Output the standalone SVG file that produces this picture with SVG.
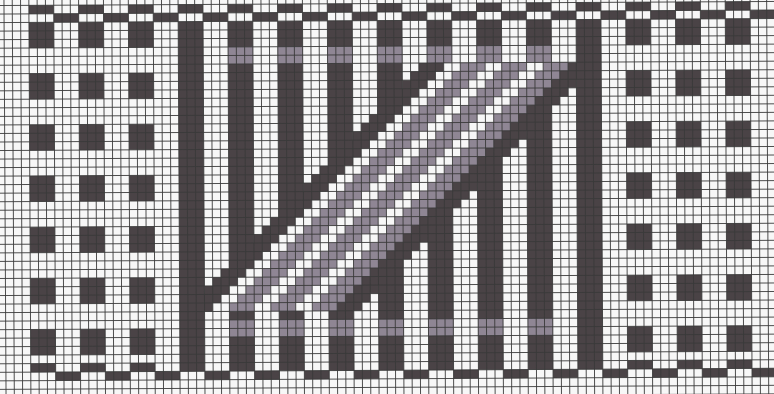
<svg xmlns="http://www.w3.org/2000/svg" xmlns:xlink="http://www.w3.org/1999/xlink" width="774" height="394" viewBox="0 0 774 394">
<style>
.dk{fill:#4a4346}
.gy{fill:#8f8694}
.wt{fill:#f7f7f7}
.gl{stroke:#3a3a3a;stroke-width:0.9;fill:none;vector-effect:non-scaling-stroke}
</style>
<defs>
<path id="s2" d="M-8 8H-6v1h-1v1h-1v1h-1v1h-1v1h-1v1h-1v1h-1v1h-1v1h-1v1h-1v1h-1v1h-1v1h-1v1h-1v1h-1v1h-1v1h-1v1h-1v1h-1v1h-1v1h-1v1h-1v1h-1v1h-1v1h-1v1h-1v1h-1v1h-1v1H-37v-1h1v-1h1v-1h1v-1h1v-1h1v-1h1v-1h1v-1h1v-1h1v-1h1v-1h1v-1h1v-1h1v-1h1v-1h1v-1h1v-1h1v-1h1v-1h1v-1h1v-1h1v-1h1v-1h1v-1h1v-1h1v-1h1v-1h1v-1h1v-1h1v-1z"/>
<path id="s3" d="M-8 8H-5v1h-1v1h-1v1h-1v1h-1v1h-1v1h-1v1h-1v1h-1v1h-1v1h-1v1h-1v1h-1v1h-1v1h-1v1h-1v1h-1v1h-1v1h-1v1h-1v1h-1v1h-1v1h-1v1h-1v1h-1v1h-1v1h-1v1h-1v1h-1v1H-37v-1h1v-1h1v-1h1v-1h1v-1h1v-1h1v-1h1v-1h1v-1h1v-1h1v-1h1v-1h1v-1h1v-1h1v-1h1v-1h1v-1h1v-1h1v-1h1v-1h1v-1h1v-1h1v-1h1v-1h1v-1h1v-1h1v-1h1v-1h1v-1h1v-1z"/>
<path id="s20" d="M-8 8H12v1h-1v1h-1v1h-1v1h-1v1h-1v1h-1v1h-1v1h-1v1h-1v1h-1v1h-1v1h-1v1h-1v1h-1v1h-1v1h-1v1h-1v1h-1v1h-1v1h-1v1h-1v1h-1v1h-1v1h-1v1h-1v1h-1v1h-1v1h-1v1H-37v-1h1v-1h1v-1h1v-1h1v-1h1v-1h1v-1h1v-1h1v-1h1v-1h1v-1h1v-1h1v-1h1v-1h1v-1h1v-1h1v-1h1v-1h1v-1h1v-1h1v-1h1v-1h1v-1h1v-1h1v-1h1v-1h1v-1h1v-1h1v-1h1v-1z"/>
</defs>
<rect width="774" height="394" fill="#f7f7f7"/>
<g transform="rotate(-0.3 387 197) translate(5 -5.03) scale(8.29 8.53)">
<g id="border">
<path class="dk" d="M3 1h3v1h-3zM9 1h3v1h-3zM15 1h3v1h-3zM21 1h3v1h-3zM27 1h3v1h-3zM33 1h3v1h-3zM39 1h3v1h-3zM45 1h3v1h-3zM51 1h3v1h-3zM57 1h3v1h-3zM63 1h3v1h-3zM69 1h3v1h-3zM75 1h3v1h-3zM81 1h3v1h-3zM87 1h3v1h-3z
M6 2h3v1h-3zM12 2h3v1h-3zM18 2h3v1h-3zM24 2h3v1h-3zM30 2h3v1h-3zM36 2h3v1h-3zM42 2h3v1h-3zM48 2h3v1h-3zM54 2h3v1h-3zM60 2h3v1h-3zM66 2h3v1h-3zM72 2h3v1h-3zM78 2h3v1h-3zM84 2h3v1h-3zM90 2h3v1h-3z
M3 43h3v1h-3zM9 43h3v1h-3zM15 43h3v1h-3zM75 43h3v1h-3zM81 43h3v1h-3zM87 43h3v1h-3z
M6 44h3v1h-3zM12 44h3v1h-3zM18 44h3v1h-3zM24 44h3v1h-3zM30 44h3v1h-3zM36 44h3v1h-3zM42 44h3v1h-3zM48 44h3v1h-3zM54 44h3v1h-3zM60 44h3v1h-3zM66 44h3v1h-3zM72 44h3v1h-3zM78 44h3v1h-3zM84 44h3v1h-3zM90 44h3v1h-3z"/>
</g>
<g id="squares-left">
<path class="dk" d="M3 3h3v3h-3zM3 9h3v3h-3zM3 15h3v3h-3zM3 21h3v3h-3zM3 27h3v3h-3zM3 33h3v3h-3zM3 39h3v3h-3z
M9 3h3v3h-3zM9 9h3v3h-3zM9 15h3v3h-3zM9 21h3v3h-3zM9 27h3v3h-3zM9 33h3v3h-3zM9 39h3v3h-3z
M15 3h3v3h-3zM15 9h3v3h-3zM15 15h3v3h-3zM15 21h3v3h-3zM15 27h3v3h-3zM15 33h3v3h-3zM15 39h3v3h-3z"/>
</g>
<g id="squares-right">
<path class="dk" d="M75 3h3v3h-3zM75 9h3v3h-3zM75 15h3v3h-3zM75 21h3v3h-3zM75 27h3v3h-3zM75 33h3v3h-3zM75 39h3v3h-3z
M81 3h3v3h-3zM81 9h3v3h-3zM81 15h3v3h-3zM81 21h3v3h-3zM81 27h3v3h-3zM81 33h3v3h-3zM81 39h3v3h-3z
M87 3h3v3h-3zM87 9h3v3h-3zM87 15h3v3h-3zM87 21h3v3h-3zM87 27h3v3h-3zM87 33h3v3h-3zM87 39h3v3h-3z"/>
</g>
<g id="stripes">
<path class="dk" d="M21 3h3v41h-3zM27 3h3v41h-3zM33 3h3v41h-3zM39 3h3v41h-3zM45 3h3v41h-3zM51 3h3v41h-3zM57 3h3v41h-3zM63 3h3v41h-3zM69 3h3v41h-3z"/>
<path class="gy" d="M27 6h3v2h-3zM33 6h3v2h-3zM39 6h3v2h-3zM45 6h3v2h-3zM51 6h3v2h-3zM57 6h3v2h-3zM63 6h3v2h-3z
M27 38h3v2h-3zM33 38h3v2h-3zM39 38h3v2h-3zM45 38h3v2h-3zM51 38h3v2h-3zM57 38h3v2h-3zM63 38h3v2h-3z"/>
</g>
<g id="band">
<use href="#s20" x="59" class="dk"/>
<use href="#s2" x="62" class="wt"/>
<use href="#s3" x="64" class="gy"/>
<use href="#s2" x="67" class="wt"/>
<use href="#s3" x="69" class="gy"/>
<use href="#s2" x="72" class="wt"/>
<use href="#s2" x="74" class="gy"/>
</g>
<g id="grid">
<path class="gl" d="M-1 -1V48M0 -1V48M1 -1V48M2 -1V48M3 -1V48M4 -1V48M5 -1V48M6 -1V48M7 -1V48M8 -1V48M9 -1V48M10 -1V48M11 -1V48M12 -1V48M13 -1V48M14 -1V48M15 -1V48M16 -1V48M17 -1V48M18 -1V48M19 -1V48M20 -1V48M21 -1V48M22 -1V48M23 -1V48M24 -1V48M25 -1V48M26 -1V48M27 -1V48M28 -1V48M29 -1V48M30 -1V48M31 -1V48M32 -1V48M33 -1V48M34 -1V48M35 -1V48M36 -1V48M37 -1V48M38 -1V48M39 -1V48M40 -1V48M41 -1V48M42 -1V48M43 -1V48M44 -1V48M45 -1V48M46 -1V48M47 -1V48M48 -1V48M49 -1V48M50 -1V48M51 -1V48M52 -1V48M53 -1V48M54 -1V48M55 -1V48M56 -1V48M57 -1V48M58 -1V48M59 -1V48M60 -1V48M61 -1V48M62 -1V48M63 -1V48M64 -1V48M65 -1V48M66 -1V48M67 -1V48M68 -1V48M69 -1V48M70 -1V48M71 -1V48M72 -1V48M73 -1V48M74 -1V48M75 -1V48M76 -1V48M77 -1V48M78 -1V48M79 -1V48M80 -1V48M81 -1V48M82 -1V48M83 -1V48M84 -1V48M85 -1V48M86 -1V48M87 -1V48M88 -1V48M89 -1V48M90 -1V48M91 -1V48M92 -1V48M93 -1V48
M-2 0H95M-2 1H95M-2 2H95M-2 3H95M-2 4H95M-2 5H95M-2 6H95M-2 7H95M-2 8H95M-2 9H95M-2 10H95M-2 11H95M-2 12H95M-2 13H95M-2 14H95M-2 15H95M-2 16H95M-2 17H95M-2 18H95M-2 19H95M-2 20H95M-2 21H95M-2 22H95M-2 23H95M-2 24H95M-2 25H95M-2 26H95M-2 27H95M-2 28H95M-2 29H95M-2 30H95M-2 31H95M-2 32H95M-2 33H95M-2 34H95M-2 35H95M-2 36H95M-2 37H95M-2 38H95M-2 39H95M-2 40H95M-2 41H95M-2 42H95M-2 43H95M-2 44H95M-2 45H95M-2 46H95M-2 47H95"/>
</g>
</g>
</svg>
